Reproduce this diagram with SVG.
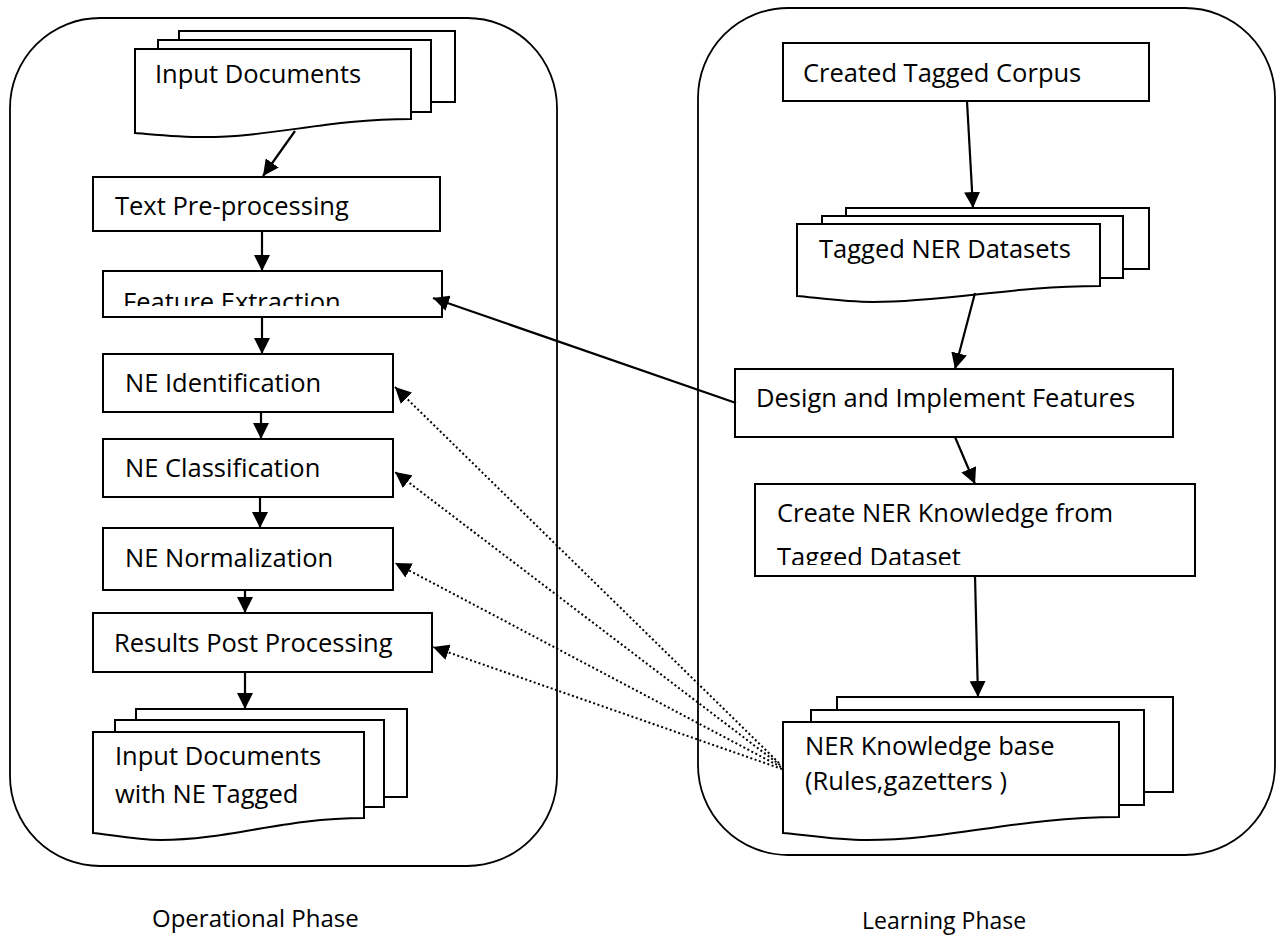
<svg xmlns="http://www.w3.org/2000/svg" width="1281" height="937" viewBox="0 0 1281 937">
<style>
  .t { font-family: "Open Sans", "Liberation Sans", sans-serif; font-size: 25.5px; fill: #000; }
  .lbl { font-family: "Open Sans", "Liberation Sans", sans-serif; font-size: 24px; fill: #000; }
  .box { fill: #fff; stroke: #000; stroke-width: 2; }
  .cont { fill: none; stroke: #000; stroke-width: 1.8; }
  .ln { fill: none; stroke: #000; stroke-width: 2.2; marker-end: url(#ah); }
  .dot { fill: none; stroke: #000; stroke-width: 2; stroke-dasharray: 2 2.5; marker-end: url(#ah); }
</style>
<defs>
  <marker id="ah" markerUnits="userSpaceOnUse" markerWidth="17" markerHeight="16" refX="16" refY="8" orient="auto">
    <path d="M0,0 L16,8 L0,16 Z" fill="#000"/>
  </marker>
  <clipPath id="clipFeat"><rect x="103" y="271" width="339" height="35"/></clipPath>
  <clipPath id="clipCreate"><rect x="755" y="484" width="440" height="81"/></clipPath>
  <clipPath id="clipOut"><rect x="93" y="732" width="271" height="77"/></clipPath>
</defs>

<g id="operational-phase">
  <rect class="cont" x="10" y="18" width="547" height="848" rx="90" ry="90"/>
  <text class="lbl" x="152" y="927">Operational Phase</text>
</g>
<g id="learning-phase">
  <rect class="cont" x="698" y="8" width="577" height="847" rx="90" ry="90"/>
  <text class="lbl" x="862" y="929" style="font-size:23px">Learning Phase</text>
</g>

<g id="input-documents">
  <rect class="box" x="179" y="31" width="276" height="71"/>
  <rect class="box" x="158" y="40" width="273" height="72"/>
  <path class="box" d="M135,49 H411 V119 C328,119 273,137 204,137 C176,137 149,134 135,133 Z"/>
  <text class="t" x="155" y="83">Input Documents</text>
</g>
<g id="text-preprocessing">
  <rect class="box" x="93" y="177" width="347" height="54"/>
  <text class="t" x="115" y="215">Text Pre-processing</text>
</g>
<g id="feature-extraction">
  <rect class="box" x="103" y="271" width="339" height="46"/>
  <text class="t" x="123" y="311" clip-path="url(#clipFeat)">Feature Extraction</text>
</g>
<g id="ne-identification">
  <rect class="box" x="103" y="354" width="290" height="58"/>
  <text class="t" x="125" y="392">NE Identification</text>
</g>
<g id="ne-classification">
  <rect class="box" x="103" y="439" width="290" height="58"/>
  <text class="t" x="125" y="477">NE Classification</text>
</g>
<g id="ne-normalization">
  <rect class="box" x="103" y="528" width="290" height="62"/>
  <text class="t" x="125" y="567">NE Normalization</text>
</g>
<g id="results-post-processing">
  <rect class="box" x="93" y="613" width="339" height="59"/>
  <text class="t" x="114" y="652">Results Post Processing</text>
</g>
<g id="output-documents">
  <rect class="box" x="136" y="709" width="271" height="88"/>
  <rect class="box" x="115" y="720" width="269" height="87"/>
  <path class="box" d="M93,732 H364 V818 C283,818 229,840 161,840 C134,840 107,834 93,833 Z"/>
  <text class="t" x="115" y="765">Input Documents</text>
  <text class="t" x="115" y="803" clip-path="url(#clipOut)">with NE Tagged</text>
</g>

<g id="created-tagged-corpus">
  <rect class="box" x="783" y="43" width="366" height="58"/>
  <text class="t" x="803" y="82">Created Tagged Corpus</text>
</g>
<g id="tagged-ner-datasets">
  <rect class="box" x="846" y="208" width="303" height="61"/>
  <rect class="box" x="822" y="216" width="301" height="62"/>
  <path class="box" d="M797,224 H1100 V286 C1009,286 949,302 873,302 C843,302 812,297 797,296 Z"/>
  <text class="t" x="819" y="258">Tagged NER Datasets</text>
</g>
<g id="design-implement-features">
  <rect class="box" x="735" y="369" width="438" height="68"/>
  <text class="t" x="756" y="407">Design and Implement Features</text>
</g>
<g id="create-ner-knowledge">
  <rect class="box" x="755" y="484" width="440" height="92"/>
  <text class="t" x="777" y="522">Create NER Knowledge from</text>
  <text class="t" x="777" y="566" clip-path="url(#clipCreate)">Tagged Dataset</text>
</g>
<g id="ner-knowledge-base">
  <rect class="box" x="837" y="697" width="336" height="95"/>
  <rect class="box" x="811" y="710" width="333" height="95"/>
  <path class="box" d="M783,722 H1119 V817 C1018,817 951,840 867,840 C833,840 800,834 783,833 Z"/>
  <text class="t" x="805" y="755">NER Knowledge base</text>
  <text class="t" x="805" y="790">(Rules,gazetters )</text>
</g>

<g id="connectors">
  <line class="ln" x1="295" y1="131" x2="263" y2="176"/>
  <line class="ln" x1="262" y1="231" x2="262" y2="271"/>
  <line class="ln" x1="262" y1="317" x2="262" y2="354"/>
  <line class="ln" x1="261" y1="412" x2="261" y2="439"/>
  <line class="ln" x1="260" y1="497" x2="260" y2="528"/>
  <line class="ln" x1="245" y1="590" x2="245" y2="613"/>
  <line class="ln" x1="245" y1="672" x2="245" y2="709"/>
  <line class="ln" x1="967" y1="101" x2="973" y2="208"/>
  <line class="ln" x1="975" y1="293" x2="955" y2="369"/>
  <line class="ln" x1="955" y1="437" x2="975" y2="484"/>
  <line class="ln" x1="975" y1="576" x2="978" y2="697"/>
  <line class="ln" x1="736" y1="403" x2="433" y2="298"/>
  <line class="dot" x1="779" y1="763" x2="395" y2="387"/>
  <line class="dot" x1="780" y1="765" x2="395" y2="472"/>
  <line class="dot" x1="781" y1="767" x2="395" y2="563"/>
  <line class="dot" x1="782" y1="769" x2="433" y2="647"/>
</g>
</svg>
